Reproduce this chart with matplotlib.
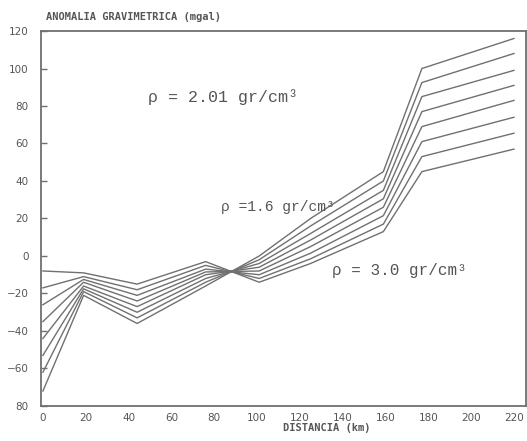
import matplotlib
matplotlib.use("Agg")
import matplotlib.pyplot as plt

# distance stations (km)
distancia = [0, 19, 44, 76, 101, 125, 159, 177, 220]

# gravity anomaly curves (mgal), one per model, top-to-bottom at the right end
curva_1 = [-72, -21, -36, -16, 0, 20, 45, 100, 116]
curva_2 = [-62, -19, -33, -14, -2, 16, 40, 92.5, 108]
curva_3 = [-53, -17.5, -30, -12, -4, 12, 35, 85, 99]
curva_4 = [-44, -16, -27, -10, -6, 8.5, 30.5, 77, 91]
curva_5 = [-35, -14, -24, -8.5, -8, 5, 26, 69, 83]
curva_6 = [-26, -12.5, -21, -7, -10, 1.5, 21.5, 61, 74]
curva_7 = [-17, -11, -18, -5, -12, -1.5, 17, 53, 65.5]
curva_8 = [-8, -9, -15, -3, -14, -4, 13, 45, 57]
curvas = [curva_1, curva_2, curva_3, curva_4, curva_5, curva_6, curva_7, curva_8]

x_ticks = [0, 20, 40, 60, 80, 100, 120, 140, 160, 180, 200, 220]
y_ticks = [120, 100, 80, 60, 40, 20, 0, -20, -40, -60, -80]
y_labels = ["120", "100", "80", "60", "40", "20", "0", "\u221220", "\u221240", "\u221260", "80"]

gris = "#707070"
texto = "#555555"

fig = plt.figure(figsize=(5.27, 4.41), dpi=100)
ax = fig.add_axes([0.0778, 0.0794, 0.9202, 0.8503])

for c in curvas:
    ax.plot(distancia, c, color=gris, lw=1.0)

ax.set_xlim(-0.9, 225.6)
ax.set_ylim(-80, 120)

ax.set_xticks(x_ticks)
ax.set_xticklabels([str(t) for t in x_ticks])
ax.set_yticks(y_ticks)
ax.set_yticklabels(y_labels)
ax.tick_params(axis="x", length=0, pad=5, labelsize=7.5, labelcolor=texto)
ax.tick_params(axis="y", direction="in", length=4, width=1, color=gris,
               pad=9, labelsize=7.5, labelcolor=texto)
for s in ax.spines.values():
    s.set_color(gris)
    s.set_linewidth(1.3)

# titles in the plotter style
fig.text(0.087, 0.962, "ANOMALIA GRAVIMETRICA (mgal)", fontsize=7.5,
         color=texto, family="DejaVu Sans Mono", fontweight="bold", va="center")
fig.text(0.62, 0.018, "DISTANCIA (km)", fontsize=7.5, color=texto,
         family="DejaVu Sans Mono", fontweight="bold", ha="center", va="bottom")

# density annotations (typewriter)
tw = "Liberation Mono"
ax.text(49, 85, "\u03c1 = 2.01 gr/cm\u00b3", fontsize=12, color=texto, family=tw, va="center")
ax.text(83, 26, "\u03c1 =1.6 gr/cm\u00b3", fontsize=10.5, color=texto, family=tw, va="center")
ax.text(135, -7.5, "\u03c1 = 3.0 gr/cm\u00b3", fontsize=11.5, color=texto, family=tw, va="center")

fig.savefig("out.png", dpi=100)
